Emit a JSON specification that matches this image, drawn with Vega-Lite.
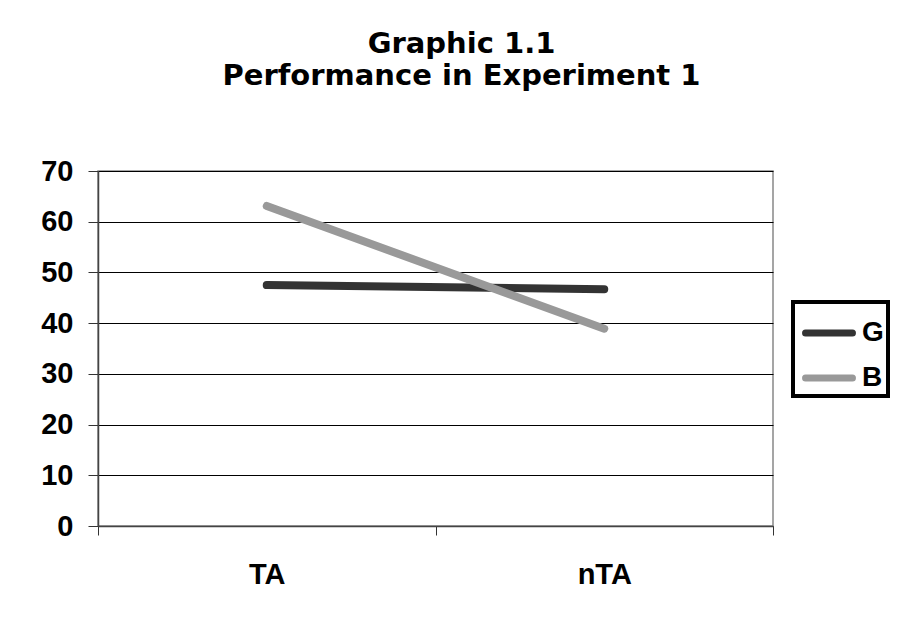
{
  "$schema": "https://vega.github.io/schema/vega-lite/v6.json",
  "width": 675,
  "height": 355,
  "padding": {"left": 40, "top": 30, "right": 5, "bottom": 30},
  "background": "white",
  "title": {
    "text": ["Graphic 1.1", "Performance in Experiment 1"],
    "font": "DejaVu Sans",
    "fontSize": 29,
    "fontWeight": "bold",
    "color": "#000",
    "lineHeight": 32,
    "anchor": "middle",
    "frame": "group",
    "dx": 26,
    "offset": 66
  },
  "data": {
    "values": [
      {"cond": "TA", "group": "G", "score": 47.5},
      {"cond": "nTA", "group": "G", "score": 46.7},
      {"cond": "TA", "group": "B", "score": 63.1},
      {"cond": "nTA", "group": "B", "score": 38.9}
    ]
  },
  "mark": {"type": "line", "strokeWidth": 8, "strokeCap": "round"},
  "encoding": {
    "x": {
      "field": "cond",
      "type": "nominal",
      "sort": ["TA", "nTA"],
      "scale": {"paddingInner": 0, "paddingOuter": 0},
      "axis": {
        "title": null,
        "labelAngle": 0,
        "labelFont": "Liberation Sans",
        "labelFontSize": 29,
        "labelFontWeight": "bold",
        "labelColor": "#000",
        "labelPadding": 25,
        "tickBand": "extent",
        "tickSize": 9,
        "tickColor": "#333",
        "tickWidth": 1,
        "domainColor": "#444",
        "domainWidth": 1.5,
        "grid": false
      }
    },
    "y": {
      "field": "score",
      "type": "quantitative",
      "scale": {"domain": [0, 70], "nice": false},
      "axis": {
        "title": null,
        "values": [0, 10, 20, 30, 40, 50, 60, 70],
        "labelFont": "Liberation Sans",
        "labelFontSize": 29,
        "labelFontWeight": "bold",
        "labelColor": "#000",
        "labelPadding": 15,
        "tickSize": 10,
        "tickColor": "#333",
        "domainColor": "#444",
        "domainWidth": 1.5,
        "grid": true,
        "gridColor": "#000",
        "gridWidth": 1
      }
    },
    "color": {
      "field": "group",
      "type": "nominal",
      "scale": {"domain": ["G", "B"], "range": ["#333333", "#999999"]},
      "legend": {
        "title": null,
        "orient": "none",
        "legendX": 695,
        "legendY": 131,
        "symbolType": "stroke",
        "symbolSize": 2200,
        "symbolStrokeWidth": 7,
        "symbolOffset": 5,
        "labelFont": "Liberation Sans",
        "labelFontSize": 28,
        "labelFontWeight": "bold",
        "labelColor": "#000",
        "labelOffset": 6,
        "strokeColor": "#000",
        "padding": 4,
        "rowPadding": 4,
        "encode": {
          "legend": {"update": {"strokeWidth": {"value": 4}}},
          "symbols": {"update": {"strokeCap": {"value": "round"}}}
        }
      }
    }
  },
  "config": {
    "view": {"stroke": "#888", "strokeWidth": 1.5}
  }
}
